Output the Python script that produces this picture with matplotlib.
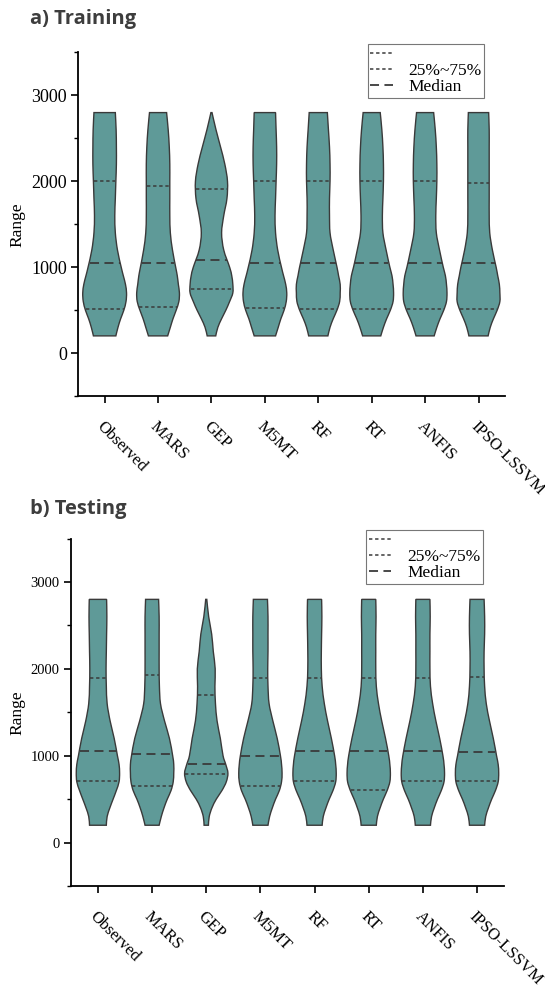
"""Violin plots of observed vs. modelled range for training and testing"""

import numpy as np
import matplotlib
matplotlib.use("Agg")
import matplotlib.pyplot as plt
from matplotlib.path import Path
from matplotlib.patches import PathPatch
from matplotlib.lines import Line2D
from matplotlib.ticker import MultipleLocator

# -----------------------------------------------------------------------------
# Data

models = ["Observed", "MARS", "GEP", "M5MT", "RF", "RT", "ANFIS", "IPSO-LSSVM"]

# y levels at which the violin half-widths were read
levels = [200, 300, 400, 500, 600, 700, 800, 900, 1000,
          1200, 1400, 1600, 1800, 2000, 2200, 2400, 2600, 2800]

# half-widths (in category units) of each violin at the above levels
train_widths = [
    [0.21, 0.25, 0.30, 0.36, 0.40, 0.41, 0.39, 0.35, 0.31, 0.24, 0.20, 0.19, 0.20, 0.21, 0.22, 0.22, 0.215, 0.20],
    [0.18, 0.23, 0.28, 0.34, 0.39, 0.40, 0.38, 0.36, 0.33, 0.27, 0.23, 0.22, 0.22, 0.22, 0.22, 0.21, 0.19, 0.16],
    [0.08, 0.12, 0.19, 0.27, 0.34, 0.40, 0.40, 0.38, 0.34, 0.23, 0.19, 0.23, 0.29, 0.30, 0.25, 0.17, 0.085, 0.01],
    [0.20, 0.25, 0.30, 0.36, 0.40, 0.41, 0.39, 0.35, 0.31, 0.24, 0.20, 0.19, 0.20, 0.21, 0.22, 0.22, 0.21, 0.20],
    [0.18, 0.22, 0.28, 0.35, 0.40, 0.41, 0.41, 0.38, 0.35, 0.28, 0.22, 0.21, 0.21, 0.22, 0.22, 0.21, 0.19, 0.17],
    [0.17, 0.22, 0.28, 0.35, 0.40, 0.41, 0.40, 0.38, 0.34, 0.27, 0.21, 0.20, 0.21, 0.22, 0.22, 0.21, 0.19, 0.16],
    [0.17, 0.22, 0.28, 0.35, 0.40, 0.41, 0.40, 0.38, 0.34, 0.27, 0.21, 0.20, 0.21, 0.22, 0.22, 0.21, 0.19, 0.16],
    [0.18, 0.22, 0.28, 0.35, 0.40, 0.40, 0.39, 0.36, 0.33, 0.26, 0.21, 0.20, 0.20, 0.20, 0.20, 0.20, 0.20, 0.19],
]
test_widths = [
    [0.155, 0.17, 0.22, 0.28, 0.34, 0.39, 0.40, 0.39, 0.36, 0.30, 0.225, 0.17, 0.155, 0.15, 0.155, 0.16, 0.165, 0.16],
    [0.13, 0.17, 0.22, 0.28, 0.35, 0.39, 0.40, 0.40, 0.38, 0.32, 0.23, 0.155, 0.135, 0.13, 0.13, 0.13, 0.13, 0.12],
    [0.04, 0.055, 0.105, 0.185, 0.29, 0.37, 0.40, 0.36, 0.31, 0.26, 0.20, 0.17, 0.16, 0.165, 0.13, 0.10, 0.045, 0.01],
    [0.14, 0.17, 0.22, 0.28, 0.35, 0.39, 0.40, 0.39, 0.37, 0.31, 0.23, 0.16, 0.14, 0.135, 0.14, 0.14, 0.14, 0.13],
    [0.14, 0.16, 0.21, 0.27, 0.34, 0.39, 0.40, 0.39, 0.37, 0.31, 0.24, 0.18, 0.14, 0.125, 0.125, 0.13, 0.135, 0.13],
    [0.14, 0.16, 0.21, 0.27, 0.34, 0.39, 0.40, 0.39, 0.37, 0.31, 0.24, 0.18, 0.14, 0.13, 0.13, 0.13, 0.135, 0.13],
    [0.14, 0.16, 0.21, 0.27, 0.34, 0.39, 0.40, 0.39, 0.37, 0.31, 0.24, 0.18, 0.14, 0.13, 0.13, 0.13, 0.135, 0.13],
    [0.14, 0.16, 0.21, 0.27, 0.34, 0.39, 0.40, 0.39, 0.36, 0.30, 0.23, 0.17, 0.14, 0.13, 0.13, 0.14, 0.14, 0.13],
]

# quartiles and medians
train_q1 = [510, 540, 750, 530, 510, 510, 510, 510]
train_med = [1050, 1050, 1080, 1050, 1050, 1050, 1050, 1050]
train_q3 = [2000, 1950, 1905, 2000, 2000, 2000, 2000, 1985]

test_q1 = [705, 655, 785, 655, 705, 605, 705, 710]
test_med = [1050, 1025, 910, 1000, 1050, 1050, 1050, 1040]
test_q3 = [1895, 1925, 1700, 1895, 1895, 1895, 1895, 1905]

# -----------------------------------------------------------------------------

FILL = "#5f9a98"
EDGE = "#3a3a3a"
QUART_LS = (0, (2.2, 1.8))
MED_LS = (0, (5, 3))
SERIF = "Liberation Serif"


def smooth_side(xs, ys):
    """Return Bezier vertices (without the start point) through the points"""
    n = len(xs)
    pts = np.column_stack([xs, ys])
    verts = []
    for i in range(n - 1):
        p0 = pts[max(i - 1, 0)]
        p1 = pts[i]
        p2 = pts[i + 1]
        p3 = pts[min(i + 2, n - 1)]
        verts += [p1 + (p2 - p0) / 6, p2 - (p3 - p1) / 6, p2]
    return verts


def violin(ax, pos, widths, q1, med, q3):
    """Draw one violin from its half-width profile plus the quartile lines"""
    ys = np.array(levels, dtype=float)
    ws = np.array(widths, dtype=float)

    right = smooth_side(pos + ws, ys)
    left = smooth_side((pos - ws)[::-1], ys[::-1])

    verts = [(pos + ws[0], ys[0])] + right + [(pos - ws[-1], ys[-1])] + left
    verts.append((pos + ws[0], ys[0]))
    codes = ([Path.MOVETO] + [Path.CURVE4] * len(right) + [Path.LINETO]
             + [Path.CURVE4] * len(left) + [Path.CLOSEPOLY])
    ax.add_patch(PathPatch(Path(verts, codes), facecolor=FILL,
                           edgecolor=EDGE, lw=1.0, zorder=2))

    for val, ls, lw in [(q1, QUART_LS, 1.1), (q3, QUART_LS, 1.1),
                        (med, MED_LS, 1.3)]:
        hw = np.interp(val, ys, ws) - 0.01
        ax.plot([pos - hw, pos + hw], [val, val], color=EDGE, ls=ls, lw=lw,
                zorder=3)


def panel(ax, widths, q1, med, q3, ytick_size):
    for i, name in enumerate(models):
        violin(ax, i + 1, widths[i], q1[i], med[i], q3[i])

    ax.set_xlim(0.5, 8.5)
    ax.set_ylim(-500, 3500)
    ax.set_xticks(range(1, len(models) + 1))
    ax.set_xticklabels(models, rotation=-45, ha="left", va="top",
                       rotation_mode="anchor", family=SERIF, fontsize=12)
    ax.set_yticks([0, 1000, 2000, 3000])
    ax.yaxis.set_minor_locator(MultipleLocator(500))
    for lab in ax.get_yticklabels():
        lab.set_family(SERIF)
        lab.set_fontsize(ytick_size)
    ax.set_ylabel("Range", family=SERIF, fontsize=12.5, labelpad=4)

    for s in ["top", "right"]:
        ax.spines[s].set_visible(False)
    for s in ["left", "bottom"]:
        ax.spines[s].set_linewidth(1.3)
    ax.tick_params(axis="both", which="major", direction="out", length=5,
                   width=1.2, pad=3)
    ax.tick_params(axis="x", pad=11)
    ax.tick_params(axis="y", which="minor", direction="out", length=3,
                   width=1.0)

    handles = [Line2D([], [], color=EDGE, ls=QUART_LS, lw=1.1),
               Line2D([], [], color=EDGE, ls=QUART_LS, lw=1.1),
               Line2D([], [], color=EDGE, ls=MED_LS, lw=1.3)]
    leg = ax.legend(handles, ["", "25%~75%", "Median"], loc="upper right",
                    bbox_to_anchor=(0.951, 1.024), borderaxespad=0,
                    prop={"family": SERIF, "size": 12.5},
                    handlelength=1.3, handletextpad=0.9, labelspacing=0.0,
                    borderpad=0.15, fancybox=False, framealpha=1)
    leg.get_frame().set_edgecolor("#777777")
    leg.get_frame().set_linewidth(0.8)


fig = plt.figure(figsize=(5.45, 9.9), dpi=100)

ax_a = fig.add_axes([0.143, 0.600, 0.784, 0.347])
panel(ax_a, train_widths, train_q1, train_med, train_q3, 13)

ax_b = fig.add_axes([0.130, 0.105, 0.795, 0.351])
panel(ax_b, test_widths, test_q1, test_med, test_q3, 10.5)

fig.text(30 / 545, 1 - 19 / 990, "a) Training", family="Open Sans",
         weight="bold", fontsize=14.5, color="#3d3d3d", va="center")
fig.text(30 / 545, 1 - 509 / 990, "b) Testing", family="Open Sans",
         weight="bold", fontsize=14.5, color="#3d3d3d", va="center")

fig.savefig("out.png", dpi=100)
plt.close(fig)
